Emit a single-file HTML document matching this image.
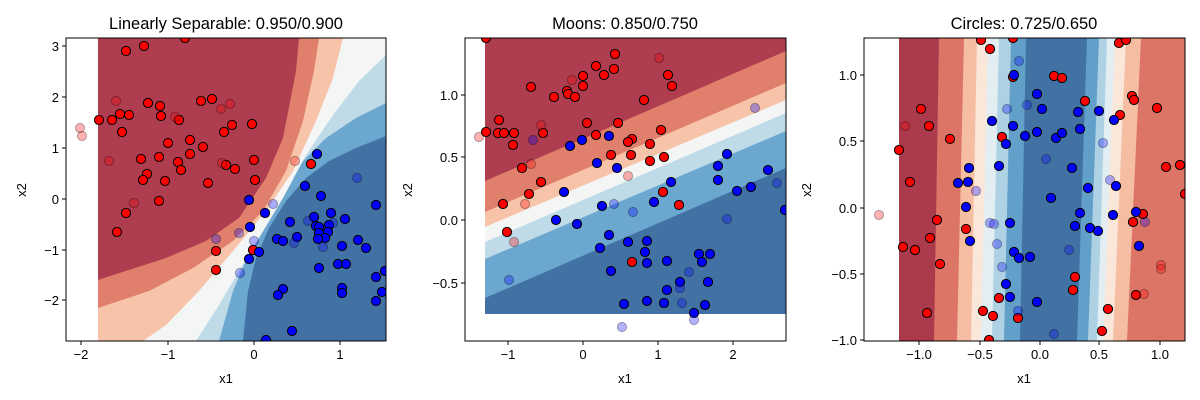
<!DOCTYPE html>
<html><head><meta charset="utf-8"><style>
html,body{margin:0;padding:0;background:#fff;}
svg{display:block;font-family:"Liberation Sans","DejaVu Sans",sans-serif;}
</style></head><body>
<svg id="s" width="1200" height="400" viewBox="0 0 1200 400" xmlns="http://www.w3.org/2000/svg">
<defs>
<clipPath id="c1"><rect x="66" y="38" width="320" height="303"/></clipPath>
<clipPath id="c2"><rect x="465" y="38" width="321" height="303"/></clipPath>
<clipPath id="c3"><rect x="864" y="38" width="321" height="303"/></clipPath>
</defs>
<rect width="1200" height="400" fill="#fff"/>

<g clip-path="url(#c1)">
<rect x="98" y="38" width="288" height="303" fill="#4272a4"/>
<path d="M98,38 L386,38 L386,136 L356,148 L329,161 L306,178 L286,201 L269,228 L256,258 L248,291 L243,341 L98,341 Z" fill="#6ba7cf"/>
<path d="M98,38 L386,38 L386,103 L356,118 L326,138 L299,165 L279,195 L263,225 L248,255 L233,291 L219,341 L98,341 Z" fill="#c0dbe8"/>
<path d="M98,38 L386,38 L386,55 L359,81 L333,115 L306,155 L283,198 L259,238 L239,271 L219,305 L196,341 L98,341 Z" fill="#f4f6f6"/>
<path d="M98,38 L343,38 L333,78 L316,121 L293,171 L266,211 L233,251 L199,291 L166,325 L143,341 L98,341 Z" fill="#f8c4a9"/>
<path d="M98,38 L319,38 L314,71 L303,121 L286,171 L263,211 L233,241 L193,268 L149,291 L98,308 Z" fill="#e0806c"/>
<path d="M98,38 L299,38 L296,71 L283,138 L266,178 L239,218 L206,241 L166,258 L98,280 Z" fill="#ae3d50"/>
<g id="p1"></g>
</g>
<rect x="66" y="38" width="320" height="303" fill="none" stroke="#000" stroke-width="1"/>
<g stroke="#000" stroke-width="1">
<line x1="81" y1="341" x2="81" y2="345"/><line x1="168" y1="341" x2="168" y2="345"/><line x1="254" y1="341" x2="254" y2="345"/><line x1="340" y1="341" x2="340" y2="345"/>
<line x1="62" y1="46" x2="66" y2="46"/><line x1="62" y1="97" x2="66" y2="97"/><line x1="62" y1="148" x2="66" y2="148"/><line x1="62" y1="199" x2="66" y2="199"/><line x1="62" y1="250" x2="66" y2="250"/><line x1="62" y1="300" x2="66" y2="300"/>
</g>
<g font-size="13" text-anchor="middle">
<text x="81" y="359">−2</text><text x="168" y="359">−1</text><text x="254" y="359">0</text><text x="340" y="359">1</text>
</g>
<g font-size="13" text-anchor="end">
<text x="59" y="51">3</text><text x="59" y="102">2</text><text x="59" y="153">1</text><text x="59" y="204">0</text><text x="59" y="255">−1</text><text x="59" y="305">−2</text>
</g>
<text x="226" y="383" font-size="13" text-anchor="middle">x1</text>
<text transform="translate(26,190) rotate(-90)" font-size="13" text-anchor="middle">x2</text>
<text x="226" y="29" font-size="16.5" text-anchor="middle">Linearly Separable: 0.950/0.900</text>

<g clip-path="url(#c2)">
<rect x="485" y="38" width="301" height="276" fill="#4272a4"/>
<path d="M485,38 L786,38 L786,168 L485,298 Z" fill="#6ba7cf"/>
<path d="M485,38 L786,38 L786,131 L485,259 Z" fill="#c0dbe8"/>
<path d="M485,38 L786,38 L786,113 L485,242 Z" fill="#f4f6f6"/>
<path d="M485,38 L786,38 L786,100 L485,227 Z" fill="#f8c4a9"/>
<path d="M485,38 L786,38 L786,83 L485,212 Z" fill="#e0806c"/>
<path d="M485,38 L786,38 L786,51 L485,181 Z" fill="#ae3d50"/>
<g id="p2"></g>
</g>
<rect x="465" y="38" width="321" height="303" fill="none" stroke="#000" stroke-width="1"/>
<g stroke="#000" stroke-width="1">
<line x1="508" y1="341" x2="508" y2="345"/><line x1="583" y1="341" x2="583" y2="345"/><line x1="658" y1="341" x2="658" y2="345"/><line x1="733" y1="341" x2="733" y2="345"/>
<line x1="461" y1="95" x2="465" y2="95"/><line x1="461" y1="157" x2="465" y2="157"/><line x1="461" y1="220" x2="465" y2="220"/><line x1="461" y1="283" x2="465" y2="283"/>
</g>
<g font-size="13" text-anchor="middle">
<text x="508" y="359">−1</text><text x="583" y="359">0</text><text x="658" y="359">1</text><text x="733" y="359">2</text>
</g>
<g font-size="13" text-anchor="end">
<text x="458" y="100">1.0</text><text x="458" y="162">0.5</text><text x="458" y="225">0.0</text><text x="458" y="288">−0.5</text>
</g>
<text x="625" y="383" font-size="13" text-anchor="middle">x1</text>
<text transform="translate(412,190) rotate(-90)" font-size="13" text-anchor="middle">x2</text>
<text x="625" y="29" font-size="16.5" text-anchor="middle">Moons: 0.850/0.750</text>

<g clip-path="url(#c3)">
<rect x="899" y="38" width="286" height="303" fill="#dc7565"/>
<path d="M899,38 L939,38 L934,341 L899,341 Z" fill="#ab3a4c"/>
<path d="M964,38 L1141,38 L1127,341 L957,341 Z" fill="#f5bda2"/>
<path d="M977,38 L1126,38 L1113,341 L971,341 Z" fill="#fbe6da"/>
<path d="M988,38 L1115,38 L1103,341 L981,341 Z" fill="#e3eef3"/>
<path d="M999,38 L1107,38 L1097,341 L992,341 Z" fill="#aed1e4"/>
<path d="M1011,38 L1099,38 L1088,341 L1004,341 Z" fill="#62a0ca"/>
<path d="M1026,38 L1087,38 L1077,341 L1020,341 Z" fill="#4272a4"/>
<g id="p3"></g>
</g>
<rect x="864" y="38" width="321" height="303" fill="none" stroke="#000" stroke-width="1"/>
<g stroke="#000" stroke-width="1">
<line x1="919" y1="341" x2="919" y2="345"/><line x1="980" y1="341" x2="980" y2="345"/><line x1="1040" y1="341" x2="1040" y2="345"/><line x1="1099" y1="341" x2="1099" y2="345"/><line x1="1160" y1="341" x2="1160" y2="345"/>
<line x1="860" y1="75" x2="864" y2="75"/><line x1="860" y1="141" x2="864" y2="141"/><line x1="860" y1="208" x2="864" y2="208"/><line x1="860" y1="274" x2="864" y2="274"/><line x1="860" y1="340" x2="864" y2="340"/>
</g>
<g font-size="13" text-anchor="middle">
<text x="919" y="359">−1.0</text><text x="980" y="359">−0.5</text><text x="1040" y="359">0.0</text><text x="1099" y="359">0.5</text><text x="1160" y="359">1.0</text>
</g>
<g font-size="13" text-anchor="end">
<text x="857" y="80">1.0</text><text x="857" y="146">0.5</text><text x="857" y="213">0.0</text><text x="857" y="279">−0.5</text><text x="857" y="345">−1.0</text>
</g>
<text x="1024" y="383" font-size="13" text-anchor="middle">x1</text>
<text transform="translate(811,190) rotate(-90)" font-size="13" text-anchor="middle">x2</text>
<text x="1024" y="29" font-size="16.5" text-anchor="middle">Circles: 0.725/0.650</text>
</svg>
<script>
var NS="http://www.w3.org/2000/svg";
function add(id,pts,fill,op){var g=document.getElementById(id);for(var i=0;i<pts.length;i+=2){var c=document.createElementNS(NS,"circle");c.setAttribute("cx",pts[i]);c.setAttribute("cy",pts[i+1]);c.setAttribute("r","4.6");c.setAttribute("fill",fill);c.setAttribute("stroke","#000");c.setAttribute("stroke-width","1");if(op){c.setAttribute("fill-opacity","0.3");c.setAttribute("stroke-opacity","0.3");}g.appendChild(c);}}
add("p1",[126,51,144,46,185,38,99,120,112,120,120,114,129,115,122,132,148,103,160,106,161,116,179,120,201,101,212,99,232,125,224,132,252,124,168,143,190,140,203,147,190,154,141,159,159,157,178,162,181,170,147,174,143,180,165,181,208,183,226,165,235,169,254,160,255,180,159,201,126,213,117,232,311,164,216,251,253,250,216,270],"#f00");
add("p1",[317,154,305,186,321,196,249,200,265,213,250,227,290,222,314,217,331,213,345,219,376,205,316,226,319,227,329,225,328,232,319,233,325,238,318,239,297,237,277,239,283,241,259,252,249,259,342,246,358,240,366,248,319,268,338,264,346,264,376,277,385,271,382,292,376,301,342,288,342,293,283,289,278,295,292,331,266,340],"#00f");
add("p1",[80,128,82,136,116,101,109,161,134,203,175,117,221,109,230,104,222,163,295,161],"#f00",1);
add("p1",[273,204,239,233,216,239,254,241,240,273,308,221,294,243,323,247,357,178,333,223],"#00f",1);
add("p2",[486,38,615,54,596,66,614,69,604,75,583,76,668,75,672,86,531,87,583,86,567,91,568,94,575,97,554,97,644,100,499,120,486,132,498,133,504,133,514,133,513,145,543,133,587,123,618,123,661,130,596,135,632,139,628,142,650,144,611,155,631,155,650,161,664,157,522,168,541,182,529,194,503,204,663,192,679,205,507,232,632,262],"#f00");
add("p2",[570,146,582,140,609,136,597,163,617,168,727,154,718,166,718,180,768,170,737,191,751,187,785,210,671,182,654,202,564,192,602,206,556,220,577,224,609,235,600,248,628,242,647,241,645,252,647,263,667,261,699,254,710,254,702,262,611,271,680,282,708,282,667,290,624,304,647,301,664,303,705,305,694,313],"#00f");
add("p2",[479,137,541,125,531,164,525,204,514,242,628,176,659,58,572,80],"#f00",1);
add("p2",[533,140,755,108,509,280,614,204,633,212,727,219,777,183,689,272,680,288,682,303,622,327,694,320],"#00f",1);
add("p3",[981,40,1013,38,990,49,1013,77,1054,76,1062,78,1119,43,1126,40,1085,101,1132,96,1134,100,1157,108,1120,115,921,109,929,126,950,139,899,150,1002,137,910,182,1166,167,1180,165,1185,194,937,220,966,229,930,238,903,247,915,250,940,264,1143,214,1133,222,1075,277,1073,290,1136,295,1108,309,1102,331,999,298,983,311,993,316,1018,318,927,313,989,340],"#f00");
add("p3",[1037,94,1042,109,1078,112,1099,111,1114,120,1080,129,992,121,1013,126,1025,136,1037,132,1056,138,1062,133,1006,144,1014,75,969,168,999,166,1072,168,958,183,968,182,1088,188,1116,186,1051,198,966,207,1080,213,1113,215,1136,212,1010,223,1075,226,1090,228,1098,231,970,241,1139,246,1014,252,1019,258,1030,257,1006,284,1010,297,1037,302],"#00f");
add("p3",[879,215,905,126,1161,265,1161,269,1144,294],"#f00",1);
add("p3",[1019,61,1027,105,1145,222,1018,311,1054,334,1046,159,1069,250,1007,109,1103,143,1110,180,976,191,990,223,994,224,997,244,1002,267],"#00f",1);
</script>
</body></html>
